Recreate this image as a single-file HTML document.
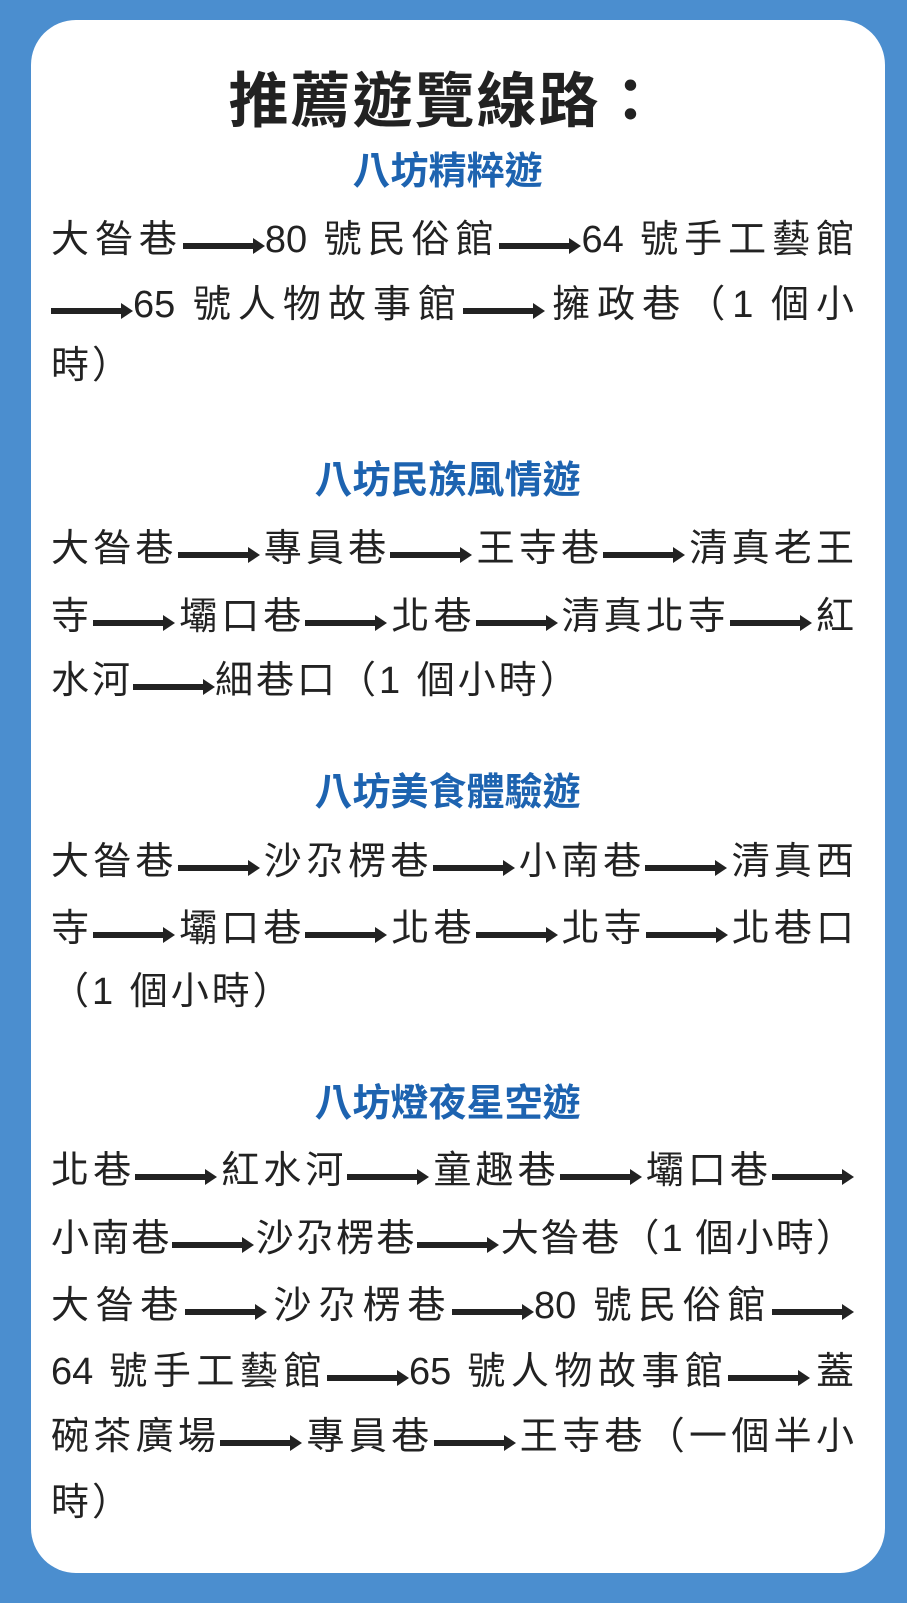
<!DOCTYPE html>
<html><head><meta charset="utf-8">
<style>
html,body{margin:0;padding:0}
body{width:907px;height:1603px;background:#4b8ecf;position:relative;overflow:hidden;font-family:"Liberation Sans","Noto Sans CJK TC",sans-serif}
.card{position:absolute;left:31px;top:20px;width:854px;height:1553px;background:#fff;border-radius:45px}
.t{position:absolute;left:0;width:907px;text-align:center;white-space:nowrap;height:50px;line-height:50px}
.title{top:67px;height:70px;line-height:70px;font-size:60px;font-weight:bold;color:#222;letter-spacing:2px;left:-8px}
.sub{font-size:38px;font-weight:bold;color:#1d63b0;left:-6px}
.l{position:absolute;left:51px;width:803px;font-size:38px;color:#222;white-space:nowrap;height:50px;line-height:50px}
.j{text-align:justify;text-align-last:justify}
.n{letter-spacing:3px}
svg{display:inline-block;vertical-align:-2px}
</style></head><body>
<div class="card"></div>
<div class="t title">推薦遊覽線路：</div>

<div class="t sub" style="top:147px">八坊精粹遊</div>
<div class="l j" style="top:215px">大昝巷<svg width="82" height="16"><rect x="0" y="5" width="72" height="6" fill="#222"/><polygon points="70,0 82,8 70,16" fill="#222"/></svg>80 號民俗館<svg width="82" height="16"><rect x="0" y="5" width="72" height="6" fill="#222"/><polygon points="70,0 82,8 70,16" fill="#222"/></svg>64 號手工藝館</div>
<div class="l j" style="top:280px"><svg width="82" height="16"><rect x="0" y="5" width="72" height="6" fill="#222"/><polygon points="70,0 82,8 70,16" fill="#222"/></svg>65 號人物故事館<svg width="82" height="16"><rect x="0" y="5" width="72" height="6" fill="#222"/><polygon points="70,0 82,8 70,16" fill="#222"/></svg>擁政巷（1 個小</div>
<div class="l n" style="top:341px">時）</div>

<div class="t sub" style="top:456px">八坊民族風情遊</div>
<div class="l j" style="top:524px">大昝巷<svg width="82" height="16"><rect x="0" y="5" width="72" height="6" fill="#222"/><polygon points="70,0 82,8 70,16" fill="#222"/></svg>專員巷<svg width="82" height="16"><rect x="0" y="5" width="72" height="6" fill="#222"/><polygon points="70,0 82,8 70,16" fill="#222"/></svg>王寺巷<svg width="82" height="16"><rect x="0" y="5" width="72" height="6" fill="#222"/><polygon points="70,0 82,8 70,16" fill="#222"/></svg>清真老王</div>
<div class="l j" style="top:592px">寺<svg width="82" height="16"><rect x="0" y="5" width="72" height="6" fill="#222"/><polygon points="70,0 82,8 70,16" fill="#222"/></svg>壩口巷<svg width="82" height="16"><rect x="0" y="5" width="72" height="6" fill="#222"/><polygon points="70,0 82,8 70,16" fill="#222"/></svg>北巷<svg width="82" height="16"><rect x="0" y="5" width="72" height="6" fill="#222"/><polygon points="70,0 82,8 70,16" fill="#222"/></svg>清真北寺<svg width="82" height="16"><rect x="0" y="5" width="72" height="6" fill="#222"/><polygon points="70,0 82,8 70,16" fill="#222"/></svg>紅</div>
<div class="l n" style="top:656px">水河<svg width="82" height="16"><rect x="0" y="5" width="72" height="6" fill="#222"/><polygon points="70,0 82,8 70,16" fill="#222"/></svg>細巷口（1 個小時）</div>

<div class="t sub" style="top:768px">八坊美食體驗遊</div>
<div class="l j" style="top:837px">大昝巷<svg width="82" height="16"><rect x="0" y="5" width="72" height="6" fill="#222"/><polygon points="70,0 82,8 70,16" fill="#222"/></svg>沙尕楞巷<svg width="82" height="16"><rect x="0" y="5" width="72" height="6" fill="#222"/><polygon points="70,0 82,8 70,16" fill="#222"/></svg>小南巷<svg width="82" height="16"><rect x="0" y="5" width="72" height="6" fill="#222"/><polygon points="70,0 82,8 70,16" fill="#222"/></svg>清真西</div>
<div class="l j" style="top:904px">寺<svg width="82" height="16"><rect x="0" y="5" width="72" height="6" fill="#222"/><polygon points="70,0 82,8 70,16" fill="#222"/></svg>壩口巷<svg width="82" height="16"><rect x="0" y="5" width="72" height="6" fill="#222"/><polygon points="70,0 82,8 70,16" fill="#222"/></svg>北巷<svg width="82" height="16"><rect x="0" y="5" width="72" height="6" fill="#222"/><polygon points="70,0 82,8 70,16" fill="#222"/></svg>北寺<svg width="82" height="16"><rect x="0" y="5" width="72" height="6" fill="#222"/><polygon points="70,0 82,8 70,16" fill="#222"/></svg>北巷口</div>
<div class="l n" style="top:967px">（1 個小時）</div>

<div class="t sub" style="top:1079px">八坊燈夜星空遊</div>
<div class="l j" style="top:1146px">北巷<svg width="82" height="16"><rect x="0" y="5" width="72" height="6" fill="#222"/><polygon points="70,0 82,8 70,16" fill="#222"/></svg>紅水河<svg width="82" height="16"><rect x="0" y="5" width="72" height="6" fill="#222"/><polygon points="70,0 82,8 70,16" fill="#222"/></svg>童趣巷<svg width="82" height="16"><rect x="0" y="5" width="72" height="6" fill="#222"/><polygon points="70,0 82,8 70,16" fill="#222"/></svg>壩口巷<svg width="82" height="16"><rect x="0" y="5" width="72" height="6" fill="#222"/><polygon points="70,0 82,8 70,16" fill="#222"/></svg></div>
<div class="l j" style="top:1214px">小南巷<svg width="82" height="16"><rect x="0" y="5" width="72" height="6" fill="#222"/><polygon points="70,0 82,8 70,16" fill="#222"/></svg>沙尕楞巷<svg width="82" height="16"><rect x="0" y="5" width="72" height="6" fill="#222"/><polygon points="70,0 82,8 70,16" fill="#222"/></svg>大昝巷（1 個小時）</div>
<div class="l j" style="top:1281px">大昝巷<svg width="82" height="16"><rect x="0" y="5" width="72" height="6" fill="#222"/><polygon points="70,0 82,8 70,16" fill="#222"/></svg>沙尕楞巷<svg width="82" height="16"><rect x="0" y="5" width="72" height="6" fill="#222"/><polygon points="70,0 82,8 70,16" fill="#222"/></svg>80 號民俗館<svg width="82" height="16"><rect x="0" y="5" width="72" height="6" fill="#222"/><polygon points="70,0 82,8 70,16" fill="#222"/></svg></div>
<div class="l j" style="top:1347px">64 號手工藝館<svg width="82" height="16"><rect x="0" y="5" width="72" height="6" fill="#222"/><polygon points="70,0 82,8 70,16" fill="#222"/></svg>65 號人物故事館<svg width="82" height="16"><rect x="0" y="5" width="72" height="6" fill="#222"/><polygon points="70,0 82,8 70,16" fill="#222"/></svg>蓋</div>
<div class="l j" style="top:1412px">碗茶廣場<svg width="82" height="16"><rect x="0" y="5" width="72" height="6" fill="#222"/><polygon points="70,0 82,8 70,16" fill="#222"/></svg>專員巷<svg width="82" height="16"><rect x="0" y="5" width="72" height="6" fill="#222"/><polygon points="70,0 82,8 70,16" fill="#222"/></svg>王寺巷（一個半小</div>
<div class="l n" style="top:1478px">時）</div>
</body></html>
